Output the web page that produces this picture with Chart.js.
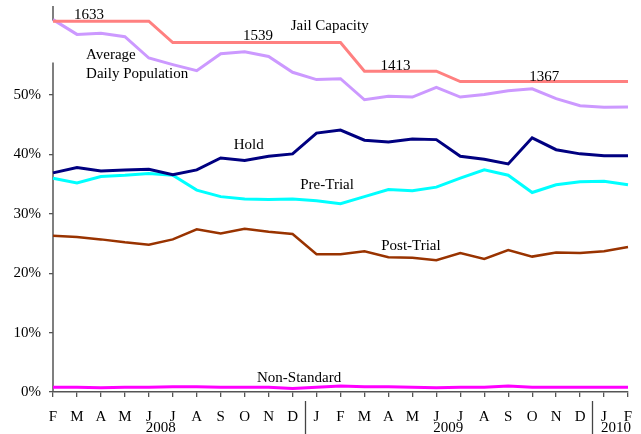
<!DOCTYPE html>
<html><head><meta charset="utf-8">
<script src="https://cdn.jsdelivr.net/npm/chart.js@4/dist/chart.umd.min.js"></script>
<style>html,body{margin:0;padding:0;background:#fff}#wrap{width:641px;height:434px}</style>
</head><body><div id="wrap"><canvas id="c" width="641" height="434"></canvas></div>
<script>
const months = ['F','M','A','M','J','J','A','S','O','N','D','J','F','M','A','M','J','J','A','S','O','N','D','J','F'];
const years = [{label:'2008', at:4.5},{label:'2009', at:16.5},{label:'2010', at:23.5}];
const yearBreaks = [10.5, 22.5];
const jailCapacity = [1633,1633,1633,1633,1633,1539,1539,1539,1539,1539,1539,1539,1539,1413,1413,1413,1413,1367,1367,1367,1367,1367,1367,1367,1367];
const avgDailyPop = [1640,1575,1580,1565,1471,1442,1415,1490,1498,1478,1408,1376,1380,1287,1302,1299,1342,1299,1310,1327,1335,1292,1261,1254,1255];
const hold = [36.9,37.8,37.2,37.4,37.5,36.6,37.4,39.4,39.0,39.7,40.1,43.6,44.1,42.4,42.1,42.6,42.5,39.7,39.2,38.4,42.8,40.8,40.1,39.8,39.8];
const preTrial = [36.0,35.2,36.3,36.5,36.8,36.5,34.0,32.9,32.5,32.4,32.5,32.2,31.7,32.9,34.1,33.9,34.5,36.0,37.4,36.5,33.6,34.9,35.4,35.5,34.9];
const postTrial = [26.3,26.1,25.7,25.2,24.8,25.7,27.4,26.7,27.5,27.0,26.6,23.2,23.2,23.7,22.7,22.6,22.2,23.4,22.4,23.9,22.8,23.5,23.4,23.7,24.4];
const nonStandard = [0.8,0.8,0.7,0.8,0.8,0.9,0.9,0.8,0.8,0.8,0.6,0.8,1.0,0.9,0.9,0.8,0.7,0.8,0.8,1.0,0.8,0.8,0.8,0.8,0.8];
const yTicks = [0,10,20,30,40,50];
const axisGap = [62.5, 55.5];
const notes = [
  {text:'1633', xi:1.5, v:63.4, align:'center'},
  {text:'1539', xi:8.56, v:59.9, align:'center'},
  {text:'Jail Capacity', xi:11.55, v:61.6, align:'center'},
  {text:'1413', xi:14.3, v:54.9, align:'center'},
  {text:'1367', xi:20.5, v:53.1, align:'center'},
  {text:'Average', xi:1.38, v:56.8, align:'left'},
  {text:'Daily Population', xi:1.38, v:53.5, align:'left'},
  {text:'Hold', xi:8.17, v:41.5, align:'center'},
  {text:'Pre-Trial', xi:11.44, v:34.9, align:'center'},
  {text:'Post-Trial', xi:14.94, v:24.6, align:'center'},
  {text:'Non-Standard', xi:10.27, v:2.4, align:'center'}
];
const FONT = '"Liberation Serif", "Times New Roman", serif';

const annot = {
  id:'annot',
  beforeDatasetsDraw(chart){
    const ctx = chart.ctx, y = chart.scales.y, a = chart.chartArea;
    const px = a.left;
    ctx.save();
    ctx.strokeStyle = '#555';
    ctx.lineWidth = 1.5;
    ctx.beginPath();
    ctx.moveTo(px, a.top); ctx.lineTo(px, y.getPixelForValue(axisGap[0]));
    ctx.moveTo(px, y.getPixelForValue(axisGap[1])); ctx.lineTo(px, a.bottom);
    ctx.stroke();
    ctx.restore();
  },
  afterDatasetsDraw(chart){
    const ctx = chart.ctx, x = chart.scales.x, y = chart.scales.y;
    ctx.save();
    ctx.fillStyle = '#000';
    ctx.font = '15px ' + FONT;
    ctx.textBaseline = 'middle';
    notes.forEach(n=>{
      ctx.textAlign = n.align;
      ctx.fillText(n.text, x.getPixelForValue(n.xi), y.getPixelForValue(n.v));
    });
    const bottom = chart.chartArea.bottom;
    ctx.textAlign = 'center';
    years.forEach(yr=>{
      ctx.fillText(yr.label, x.getPixelForValue(yr.at), bottom + 36);
    });
    ctx.strokeStyle = '#444';
    ctx.lineWidth = 1.3;
    yearBreaks.forEach(b=>{
      const px = Math.round(x.getPixelForValue(b)) + 0.5;
      ctx.beginPath(); ctx.moveTo(px, bottom + 9); ctx.lineTo(px, bottom + 42); ctx.stroke();
    });
    ctx.restore();
  }
};

function ds(label, data, color, axis, w){
  return {label, data, borderColor:color, backgroundColor:color, borderWidth:w, pointRadius:0, tension:0, yAxisID:axis, fill:false};
}

new Chart(document.getElementById('c'), {
  type:'line',
  data:{
    labels: months,
    datasets:[
      ds('Jail Capacity', jailCapacity, '#FF8080', 'y2', 3),
      ds('Average Daily Population', avgDailyPop, '#CC99FF', 'y2', 3),
      ds('Hold', hold, '#000080', 'y', 3),
      ds('Pre-Trial', preTrial, '#00FFFF', 'y', 3),
      ds('Post-Trial', postTrial, '#993300', 'y', 2.5),
      ds('Non-Standard', nonStandard, '#FF00FF', 'y', 3)
    ]
  },
  options:{
    responsive:false, animation:false,
    layout:{padding:{top:6, right:13, left:0, bottom:0}},
    plugins:{legend:{display:false}, tooltip:{enabled:false}},
    scales:{
      x:{
        type:'category', offset:false,
        grid:{offset:false, drawOnChartArea:false, drawTicks:true, tickLength:5, color:'#555', lineWidth:1.3},
        border:{color:'#555', width:1.5},
        ticks:{color:'#000', font:{family:FONT, size:15}, padding:11, maxRotation:0, autoSkip:false},
        afterFit(s){ s.height = 42; s.paddingLeft = 0; s.paddingRight = 0; }
      },
      y:{
        min:0, max:65,
        afterBuildTicks(s){ s.ticks = yTicks.map(v=>({value:v})); },
        grid:{drawOnChartArea:false, drawTicks:true, tickLength:4, color:'#555', lineWidth:1.3},
        border:{display:false},
        ticks:{color:'#000', font:{family:FONT, size:15}, padding:8, callback:v=>v+'%'},
        afterFit(s){ s.width = 53; s.paddingTop = 0; s.paddingBottom = 0; }
      },
      y2:{
        display:false, min:0, max:1700
      }
    }
  },
  plugins:[annot]
});
</script></body></html>
